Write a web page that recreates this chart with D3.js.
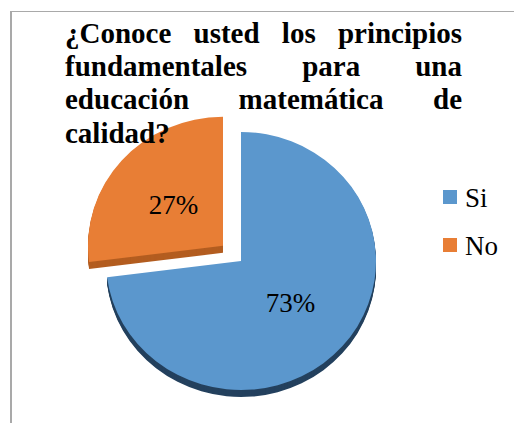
<!DOCTYPE html>
<html>
<head>
<meta charset="utf-8">
<script src="https://cdn.jsdelivr.net/npm/d3@7"></script>
</head>
<body style="margin:0;background:#fff">
<svg id="chart" width="514" height="423" style="display:block"></svg>
<script>
// ---- data ----
const categories = ["Si", "No"];
const values = [73, 27];
const colors = ["#5b97cd", "#e87e35"];
const sideColors = ["#24415e", "#b35d20"];
const titleLines = [
  ["¿Conoce", "usted", "los", "principios"],
  ["fundamentales", "para", "una"],
  ["educación", "matemática", "de"],
  ["calidad?"]
];

// ---- layout ----
const FONT_LABEL = `27px 'Times New Roman'`;
const FONT_TITLE = `bold 29px 'Times New Roman'`;
const svg = d3.select("#chart");
const W = 514, H = 423;

svg.append("line").attr("x1", 11).attr("y1", 11).attr("x2", 11).attr("y2", H)
  .attr("stroke", "#a9a9a9").attr("stroke-width", 2);
svg.append("line").attr("x1", 10).attr("y1", 11.5).attr("x2", W).attr("y2", 11.5)
  .attr("stroke", "#a9a9a9").attr("stroke-width", 1);

const cx = 241, cy = 261, rx = 135, ry = 129, k = ry / rx;
const depth = 7, explode = 24;

const pie = d3.pie().sort(null).value(d => d.v).startAngle(0).endAngle(2 * Math.PI);
const data = categories.map((c, i) => ({ c, v: values[i], i }));
const arcs = pie(data);
const arc = d3.arc().innerRadius(0).outerRadius(rx);
const labelArc = d3.arc().innerRadius(66).outerRadius(66);
const total = d3.sum(values);

function offset(d) {
  if (d.data.c !== "No") return [0, 0];
  const mid = (d.startAngle + d.endAngle) / 2;
  return [explode * Math.sin(mid), -explode * Math.cos(mid) * k];
}

const layers = d3.range(depth, 0, -1);
const g = svg.append("g");

arcs.forEach(d => {
  const [ox, oy] = offset(d);
  g.selectAll(null).data(layers).enter().append("path")
    .attr("d", arc(d))
    .attr("fill", sideColors[d.data.i])
    .attr("transform", l => `translate(${cx + ox},${cy + oy + l}) scale(1,${k})`);
});
arcs.forEach(d => {
  const [ox, oy] = offset(d);
  g.append("path")
    .attr("d", arc(d))
    .attr("fill", colors[d.data.i])
    .attr("transform", `translate(${cx + ox},${cy + oy}) scale(1,${k})`);
});
arcs.forEach(d => {
  const [ox, oy] = offset(d);
  const [lx, ly] = labelArc.centroid(d);
  svg.append("text")
    .attr("x", cx + ox + lx)
    .attr("y", cy + oy + ly * k)
    .attr("dy", "0.35em")
    .attr("text-anchor", "middle")
    .attr("fill", "#000")
    .style("font", FONT_LABEL)
    .text(Math.round(d.data.v / total * 100) + "%");
});

const legend = svg.append("g");
categories.forEach((c, i) => {
  const y = 190 + i * 48;
  legend.append("rect").attr("x", 443).attr("y", y).attr("width", 14).attr("height", 14)
    .attr("fill", colors[i]);
  legend.append("text").attr("x", 465).attr("y", y + 17)
    .attr("fill", "#000")
    .style("font", FONT_LABEL).text(c);
});

const tx0 = 65, tx1 = 462, ty0 = 43, lh = 33.2;
const tg = svg.append("g");
titleLines.forEach((words, li) => {
  const y = ty0 + li * lh;
  const nodes = words.map(w => tg.append("text").attr("y", y)
    .attr("fill", "#000")
    .style("font", FONT_TITLE).text(w));
  const widths = nodes.map(n => n.node().getComputedTextLength());
  const last = li === titleLines.length - 1;
  const gap = (!last && words.length > 1)
    ? (tx1 - tx0 - d3.sum(widths)) / (words.length - 1)
    : 7;
  let x = tx0;
  nodes.forEach((n, j) => { n.attr("x", x); x += widths[j] + gap; });
});
</script>
</body>
</html>
